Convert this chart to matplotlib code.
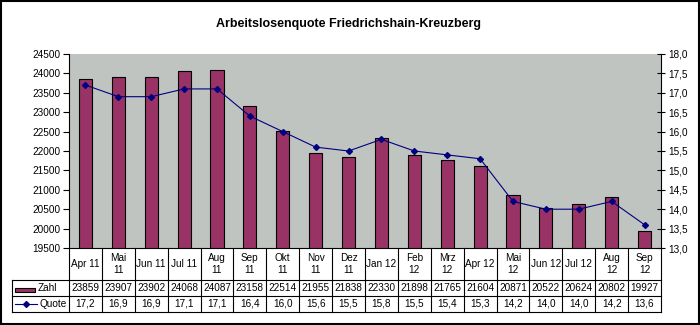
import matplotlib.pyplot as plt
from matplotlib.patches import Rectangle
from matplotlib.lines import Line2D
from matplotlib.ticker import FuncFormatter

plt.rcParams['font.family'] = ['Liberation Sans', 'DejaVu Sans']

# data
monate = ['Apr 11', 'Mai\n11', 'Jun 11', 'Jul 11', 'Aug\n11', 'Sep\n11', 'Okt\n11', 'Nov\n11',
          'Dez\n11', 'Jan 12', 'Feb\n12', 'Mrz\n12', 'Apr 12', 'Mai\n12', 'Jun 12', 'Jul 12',
          'Aug\n12', 'Sep\n12']
zahl = [23859, 23907, 23902, 24068, 24087, 23158, 22514, 21955, 21838, 22330, 21898, 21765,
        21604, 20871, 20522, 20624, 20802, 19927]
quote = [17.2, 16.9, 16.9, 17.1, 17.1, 16.4, 16.0, 15.6, 15.5, 15.8, 15.5, 15.4, 15.3, 14.2,
         14.0, 14.0, 14.2, 13.6]

W, H = 700, 325
fs = 7.2
fig = plt.figure(figsize=(7, 3.25), dpi=100)
fig.patch.set_facecolor('white')

# pixel helpers
def fx(px):
    return px / W

def fy(py):
    return 1 - py / H

left, right, top, bottom = 69, 661, 54, 248
ax = fig.add_axes([fx(left), fy(bottom), fx(right - left), (bottom - top) / H])
ax.set_facecolor('#C0C4C0')

n = len(monate)
x = list(range(n))
bar_col = '#993366'
line_col = '#000080'

ax.bar(x, zahl, width=0.4, color=bar_col, edgecolor='black', linewidth=0.8, zorder=2)
ax.set_xlim(-0.5, n - 0.5)
ax.set_ylim(19500, 24500)
ax.set_yticks(range(19500, 24501, 500))
ax.set_xticks([])
ax.tick_params(axis='y', labelsize=fs, length=4.5, width=0.8, direction='out', pad=1.5)

ax2 = ax.twinx()
ax2.plot(x, quote, color=line_col, linewidth=0.8, marker='D', markersize=3, zorder=3)
ax2.set_ylim(13.0, 18.0)
ax2.set_yticks([13 + 0.5 * i for i in range(11)])
ax2.yaxis.set_major_formatter(FuncFormatter(lambda v, p: f'{v:.1f}'.replace('.', ',')))
ax2.tick_params(axis='y', labelsize=fs, length=6, width=0.8, direction='inout', pad=2.5)

for a in (ax, ax2):
    for s in a.spines.values():
        s.set_visible(False)
ax.spines['left'].set_visible(True)
ax.spines['left'].set_linewidth(0.8)
ax2.spines['right'].set_visible(True)
ax2.spines['right'].set_linewidth(0.8)

# data table below the plot
r0, r1, r2, r3 = 248, 280, 296, 312
lab_left = 12
colw = (right - left) / n
lw = 0.8
k = 'black'

def hline(y, x0, x1):
    fig.add_artist(Line2D([fx(x0), fx(x1)], [fy(y), fy(y)], color=k, lw=lw))

def vline(xp, y0, y1):
    fig.add_artist(Line2D([fx(xp), fx(xp)], [fy(y0), fy(y1)], color=k, lw=lw))

hline(r0, left, right)
hline(r1, lab_left, right)
hline(r2, lab_left, right)
hline(r3, lab_left, right)
vline(lab_left, r1, r3)
for i in range(n + 1):
    vline(left + i * colw, r0, r3)

for i in range(n):
    cx = fx(left + (i + 0.5) * colw)
    fig.text(cx, fy((r0 + r1) / 2), monate[i], ha='center', va='center', fontsize=fs,
             linespacing=1.35)
    fig.text(cx, fy((r1 + r2) / 2), str(zahl[i]), ha='center', va='center', fontsize=fs)
    fig.text(cx, fy((r2 + r3) / 2), f'{quote[i]:.1f}'.replace('.', ','), ha='center',
             va='center', fontsize=fs)

# legend keys in row labels
fig.add_artist(Rectangle((fx(15), fy(291.7)), fx(20), 4 / H, facecolor=bar_col,
                         edgecolor='black', lw=0.8))
fig.text(fx(37.5), fy((r1 + r2) / 2), 'Zahl', ha='left', va='center', fontsize=fs)
fig.add_artist(Line2D([fx(15), fx(37)], [fy(304), fy(304)], color=line_col, lw=0.8))
fig.add_artist(Line2D([fx(26)], [fy(304)], color=line_col, marker='D', markersize=3))
fig.text(fx(39), fy((r2 + r3) / 2), 'Quote', ha='left', va='center', fontsize=fs)

fig.text(fx(349), fy(27), 'Arbeitslosenquote Friedrichshain-Kreuzberg', ha='center',
         va='baseline', fontsize=9, fontweight='bold')

# outer frame
fig.add_artist(Rectangle((0.001, 0.002), 0.997, 0.995, fill=False, edgecolor='black', lw=1.5))

fig.savefig('out.png', dpi=100)
